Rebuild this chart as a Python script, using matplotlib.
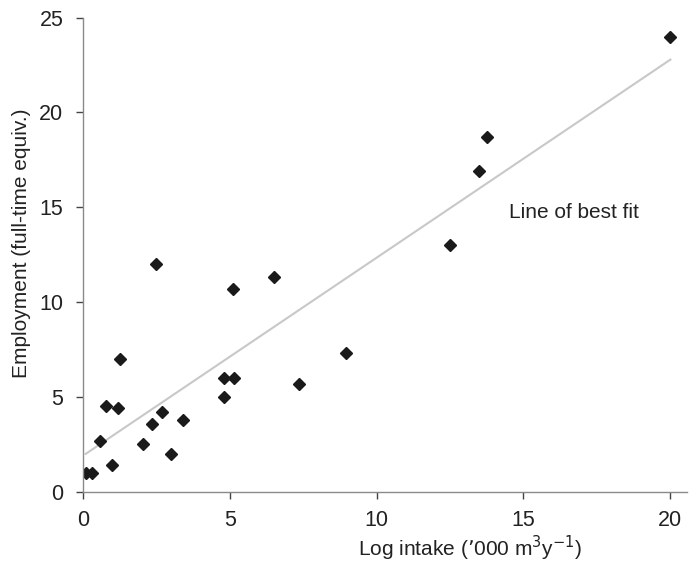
import numpy as np
import matplotlib.pyplot as plt

plt.rcParams['font.family'] = ['Liberation Sans', 'DejaVu Sans']

# log intake ('000 m3/y) and employment (full-time equivalents)
intake = [0.1, 0.3, 0.6, 0.8, 1.0, 1.2, 1.25, 2.05, 2.37, 2.5, 2.7, 3.0, 3.4,
          4.8, 4.8, 5.15, 5.1, 6.5, 7.35, 8.95, 12.5, 13.5, 13.75, 20.0]
employment = [1.0, 1.0, 2.7, 4.5, 1.4, 4.4, 7.0, 2.5, 3.6, 12.0, 4.2, 2.0, 3.8,
              6.0, 5.0, 6.0, 10.7, 11.3, 5.7, 7.3, 13.0, 16.9, 18.7, 24.0]

x_ticks = [0, 5, 10, 15, 20]
y_ticks = [0, 5, 10, 15, 20, 25]

fig = plt.figure(figsize=(6.9, 5.66), dpi=100)
ax = fig.add_axes([0.12, 0.131, 0.875, 0.838])

# fitted trend line
slope, intercept = np.polyfit(intake, employment, 1)
fit_x = np.array([0.1, 20.0])
ax.plot(fit_x, slope * fit_x + intercept, color='#c8c8c8', lw=1.5, zorder=1)

ax.plot(intake, employment, 'D', color='#1a1a1a', ms=6.5, zorder=2)

ax.text(14.5, 14.7, 'Line of best fit', fontsize=15, va='center', ha='left', color='#222222')

ax.set_xlim(0, 20.55)
ax.set_ylim(0, 25)
ax.set_xticks(x_ticks)
ax.set_yticks(y_ticks)

for side in ['top', 'right']:
    ax.spines[side].set_visible(False)
for side in ['left', 'bottom']:
    ax.spines[side].set_color('#8a8a8a')
    ax.spines[side].set_linewidth(1.0)
ax.tick_params(direction='out', length=5, width=1, color='#444444',
               labelsize=15.5, labelcolor='#222222')
ax.tick_params(axis='x', pad=8)
ax.tick_params(axis='y', pad=9)

ax.set_xlabel('Log intake (\u2019000 m$^3$y$^{\u22121}$)', fontsize=15, color='#222222')
ax.set_ylabel('Employment (full-time equiv.)', fontsize=15, color='#222222')
ax.xaxis.set_label_coords(0.642, -0.088)
ax.yaxis.set_label_coords(-0.085, 0.524)

fig.savefig('out.png', dpi=100)
